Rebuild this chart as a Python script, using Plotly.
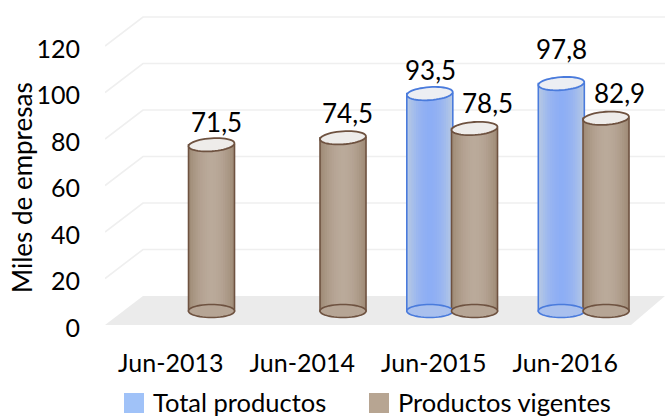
import plotly.graph_objects as go
import math

categories = ["Jun-2013", "Jun-2014", "Jun-2015", "Jun-2016"]
total_productos = [None, None, 93.5, 97.8]
productos_vigentes = [71.5, 74.5, 78.5, 82.9]
tick_values = [0, 20, 40, 60, 80, 100, 120]
y_title = "Miles de empresas"

# scale of the plot area
L, R, T, B = 105, 665, 15, 328
PX_X = 131.5
PX_Y = 2.325
X_MIN = -0.5
X_MAX = X_MIN + (R - L) / PX_X
Y_MAX = (B - T) / PX_Y
def dx(px): return px / PX_X
def dy(px): return px / PX_Y

FRONT_DY = dy(3); BACK_DY = dy(32); BASE_DY = dy(17)
DEPTH_DX = dx(38)
BAR_W = dx(46)
OFF_BROWN = 0.31; OFF_BLUE = -0.03

FONT = "Lato"
FS_TICK = 25
FS_TEXT = 26
FS_LEGEND = 25.5
BLUE = dict(edge=(182, 200, 228), mid=(141, 174, 245), line="#4a7bdc", top="#eceef3", base="#a9c0ee")
BROWN = dict(edge=(160, 140, 120), mid=(186, 170, 154), line="#6e5240", top="#eeecea", base="#b6a595")

def mix(a, b, t):
    return "rgb(%d,%d,%d)" % tuple(round(a[i] + (b[i] - a[i]) * t) for i in range(3))

def ellipse(cx, cy, tilt):
    a, b = BAR_W / 2, 6.5
    pts = []
    for k in range(48):
        th = 2 * math.pi * k / 48
        ex, ey = a * PX_X * math.cos(th), b * math.sin(th)
        rx = ex * math.cos(tilt) - ey * math.sin(tilt)
        ry = ex * math.sin(tilt) + ey * math.cos(tilt)
        pts.append((cx + rx / PX_X, cy + ry / PX_Y))
    return "M" + " L".join("%.4f,%.4f" % p for p in pts) + " Z"

fig = go.Figure()
shapes = []

# floor and walls
x0, x1 = X_MIN, X_MIN + dx(526)
floor = "M%f,%f L%f,%f L%f,%f L%f,%f Z" % (x0, FRONT_DY, x0 + DEPTH_DX, BACK_DY, X_MAX, BACK_DY, x1, FRONT_DY)
shapes.append(dict(type="path", path=floor, xref="x", yref="y", layer="below",
                   fillcolor="#ebebeb", line=dict(width=0)))
for v in tick_values[1:]:
    p = "M%f,%f L%f,%f L%f,%f" % (x0, v + FRONT_DY, x0 + DEPTH_DX, v + BACK_DY, X_MAX, v + BACK_DY)
    shapes.append(dict(type="path", path=p, xref="x", yref="y", layer="below",
                       line=dict(color="#efefef", width=1.6)))

LEVELS = 10
def add_series(name, values, off, st):
    xs = [i + off for i in range(len(categories))]
    for k in range(LEVELS):
        f = 1 - k / LEVELS
        fig.add_trace(go.Bar(
            x=xs, y=values, base=[BASE_DY] * len(values), width=BAR_W * f, name=name,
            showlegend=False, hoverinfo="skip" if k else None,
            marker=dict(color=mix(st["mid"], st["edge"], f ** 2),
                        line=dict(color=st["line"] if k == 0 else "rgba(0,0,0,0)", width=1.6 if k == 0 else 0))))
    for x, v in zip(xs, values):
        if v is None:
            continue
        shapes.append(dict(type="path", path=ellipse(x, BASE_DY, 0), xref="x", yref="y", layer="above",
                           fillcolor=st["base"], line=dict(color=st["line"], width=1.6)))
        shapes.append(dict(type="path", path=ellipse(x, BASE_DY + v, 0.07), xref="x", yref="y", layer="above",
                           fillcolor=st["top"], line=dict(color=st["line"], width=1.8)))

add_series("Total productos", total_productos, OFF_BLUE, BLUE)
add_series("Productos vigentes", productos_vigentes, OFF_BROWN, BROWN)

annotations = []
label_nudge = {"b2": (1, 24), "b3": (0, 35), "g0": (5, 23), "g1": (4, 25), "g2": (13, 25), "g3": (13, 25)}
for key, vals, off in (("b", total_productos, OFF_BLUE), ("g", productos_vigentes, OFF_BROWN)):
    for i, v in enumerate(vals):
        if v is None:
            continue
        nx, ny = label_nudge[key + str(i)]
        annotations.append(dict(x=i + off, y=v + BASE_DY, xref="x", yref="y", xshift=nx, yshift=ny,
                                xanchor="center", yanchor="middle",
                                text=("%.1f" % v).replace(".", ","), showarrow=False,
                                font=dict(family=FONT, size=FS_TEXT, color="#000")))

def px_x(p): return (p - L) / (R - L)
def px_y(p): return (B - p) / (B - T)

annotations.append(dict(x=px_x(22), y=px_y(188), xref="paper", yref="paper", text=y_title, textangle=-90,
                        xanchor="center", yanchor="middle",
                        showarrow=False, font=dict(family=FONT, size=FS_TEXT, color="#000")))
for nm, sw, tx, col in (("Total productos", 124, 151, "rgb(160,194,248)"), ("Productos vigentes", 369, 396, "rgb(183,165,146)")):
    shapes.append(dict(type="rect", xref="paper", yref="paper", layer="above",
                       x0=px_x(sw), x1=px_x(sw + 20), y0=px_y(413), y1=px_y(393),
                       fillcolor=col, line=dict(width=0)))
    annotations.append(dict(x=px_x(tx), y=px_y(402), xref="paper", yref="paper", xanchor="left", yanchor="middle", text=nm,
                            showarrow=False, font=dict(family=FONT, size=FS_LEGEND, color="#000")))

fig.update_layout(
    width=665, height=418, autosize=False, barmode="overlay", showlegend=False,
    margin=dict(l=L, r=665 - R, t=T, b=418 - B, pad=0),
    paper_bgcolor="white", plot_bgcolor="white",
    shapes=shapes, annotations=annotations,
    xaxis=dict(range=[X_MIN, X_MAX], tickvals=list(range(len(categories))), ticktext=categories,
               showgrid=False, zeroline=False, showline=False, ticks="", ticklabelstandoff=18,
               tickfont=dict(family=FONT, size=FS_TICK, color="#000")),
    yaxis=dict(range=[0, Y_MAX], tickvals=tick_values, showgrid=False, zeroline=False, showline=False,
               ticks="", ticklabelstandoff=24, tickfont=dict(family=FONT, size=FS_TICK, color="#000")),
)
fig.write_html("out.html", config=dict(displayModeBar=False),
               post_script="document.body.style.margin='0';document.body.style.overflow='hidden';")
